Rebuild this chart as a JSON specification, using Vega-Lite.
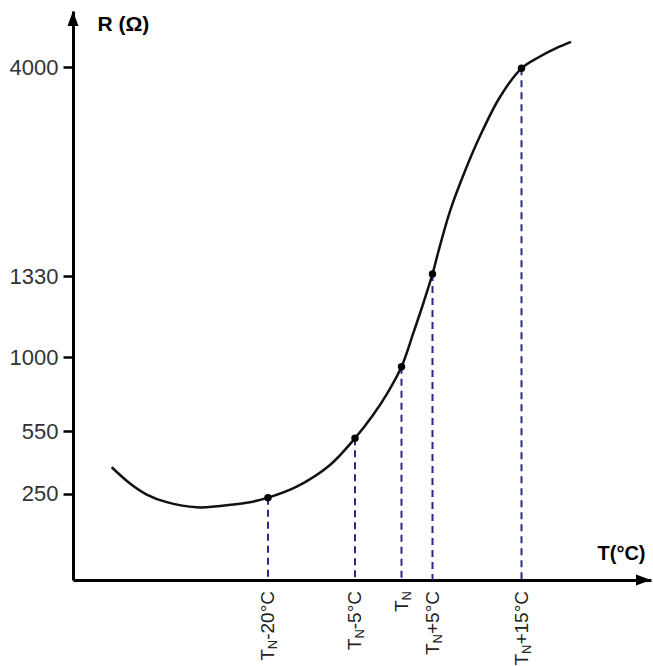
{
  "$schema": "https://vega.github.io/schema/vega-lite/v6.json",
  "width": 580,
  "height": 580,
  "autosize": "none",
  "padding": {"left": 73, "top": 0, "right": 0, "bottom": 86},
  "background": "white",
  "config": {"view": {"stroke": null}, "font": "Liberation Sans"},
  "datasets": {
    "curve": [
      {"t": -47.25, "r": 376}, {"t": -44.06, "r": 298}, {"t": -41.15, "r": 247},
      {"t": -37.66, "r": 225}, {"t": -32.43, "r": 210}, {"t": -28.37, "r": 214},
      {"t": -23.71, "r": 223}, {"t": -20, "r": 238}, {"t": -15.05, "r": 283},
      {"t": -9.31, "r": 387}, {"t": -5, "r": 515}, {"t": -3.06, "r": 647},
      {"t": -1.45, "r": 787}, {"t": 0, "r": 941}, {"t": 1.9, "r": 1097},
      {"t": 3.52, "r": 1219}, {"t": 5, "r": 1356}, {"t": 5.65, "r": 1637},
      {"t": 6.97, "r": 2160}, {"t": 8.65, "r": 2671}, {"t": 10.34, "r": 3118},
      {"t": 12.58, "r": 3617}, {"t": 15, "r": 3983}, {"t": 17.14, "r": 4131},
      {"t": 19.08, "r": 4238}, {"t": 20.73, "r": 4314}
    ],
    "pts": [
      {"t": -20, "r": 238, "label": "-20°C"},
      {"t": -5, "r": 515, "label": "-5°C"},
      {"t": 0, "r": 941, "label": ""},
      {"t": 5, "r": 1356, "label": "+5°C"},
      {"t": 15, "r": 3983, "label": "+15°C"}
    ]
  },
  "layer": [
    {
      "data": {"name": "pts"},
      "mark": {"type": "rule", "strokeDash": [7, 5], "strokeWidth": 2, "color": "#2a2a8c"},
      "encoding": {
        "x": {
          "field": "t", "type": "quantitative",
          "scale": {"domain": [-54, -20, -5, 0, 5, 15, 30], "range": [0, 195, 282, 328.5, 359.5, 448.5, 578], "zero": false, "nice": false},
          "axis": {
            "title": "T(°C)", "titleX": 524, "titleY": -27, "titleAlign": "left", "titleBaseline": "middle",
            "titleFontSize": 20, "titleFontWeight": "bold", "titleColor": "black", "titleFont": "Liberation Sans",
            "labels": false, "ticks": false, "grid": false, "domainWidth": 3, "domainColor": "black"
          }
        },
        "y": {
          "field": "r", "type": "quantitative",
          "scale": {"domain": [0, 250, 550, 1000, 1330, 4000, 4700], "range": [580, 493.5, 431, 357, 276, 67, 11], "zero": false, "nice": false},
          "axis": {
            "title": "R (Ω)", "titleAngle": 0, "titleX": 24, "titleY": 24, "titleAlign": "left", "titleBaseline": "middle",
            "titleFontSize": 21, "titleFontWeight": "bold", "titleColor": "black", "titleFont": "Liberation Sans",
            "values": [250, 550, 1000, 1330, 4000], "format": "d", "grid": false,
            "tickSize": 10, "tickWidth": 2.5, "tickColor": "black",
            "labelFontSize": 22, "labelColor": "#333", "labelPadding": 5, "labelFont": "Liberation Sans", "labelOverlap": false,
            "domainWidth": 3, "domainColor": "black"
          }
        },
        "y2": {"datum": 0}
      }
    },
    {
      "data": {"name": "curve"},
      "mark": {"type": "line", "interpolate": "catmull-rom", "color": "#111", "strokeWidth": 2.5},
      "encoding": {
        "x": {"field": "t", "type": "quantitative"},
        "y": {"field": "r", "type": "quantitative"}
      }
    },
    {
      "data": {"name": "pts"},
      "mark": {"type": "point", "filled": true, "shape": "circle", "size": 55, "color": "#000", "opacity": 1},
      "encoding": {
        "x": {"field": "t", "type": "quantitative"},
        "y": {"field": "r", "type": "quantitative"}
      }
    },
    {
      "data": {"values": [{}]},
      "mark": {"type": "point", "filled": true, "shape": "M0,0L0.73,2L-0.73,2Z", "size": 225, "color": "#000", "opacity": 1, "strokeWidth": 0},
      "encoding": {"x": {"datum": -54}, "y": {"datum": 4700}}
    },
    {
      "data": {"values": [{}]},
      "mark": {"type": "point", "filled": true, "shape": "M0,0L-2,-0.73L-2,0.73Z", "size": 225, "color": "#000", "opacity": 1, "strokeWidth": 0},
      "encoding": {"x": {"datum": 30}, "y": {"datum": 0}}
    },
    {
      "data": {"name": "pts"},
      "mark": {"type": "text", "angle": 270, "align": "right", "baseline": "middle", "dx": -11, "fontSize": 19, "font": "Liberation Sans", "color": "#222"},
      "encoding": {"x": {"field": "t", "type": "quantitative"}, "y": {"datum": 0}, "text": {"field": "label"}}
    },
    {
      "data": {"name": "pts"}, "transform": [{"filter": "datum.t == -20"}],
      "mark": {"type": "text", "text": "T", "angle": 270, "align": "right", "baseline": "middle", "dx": -69.2, "fontSize": 19, "font": "Liberation Sans", "color": "#222"},
      "encoding": {"x": {"field": "t", "type": "quantitative"}, "y": {"datum": 0}}
    },
    {
      "data": {"name": "pts"}, "transform": [{"filter": "datum.t == -20"}],
      "mark": {"type": "text", "text": "N", "angle": 270, "align": "right", "baseline": "middle", "dx": -59.8, "dy": 5, "fontSize": 13, "font": "Liberation Sans", "color": "#222"},
      "encoding": {"x": {"field": "t", "type": "quantitative"}, "y": {"datum": 0}}
    },
    {
      "data": {"name": "pts"}, "transform": [{"filter": "datum.t == -5"}],
      "mark": {"type": "text", "text": "T", "angle": 270, "align": "right", "baseline": "middle", "dx": -58.6, "fontSize": 19, "font": "Liberation Sans", "color": "#222"},
      "encoding": {"x": {"field": "t", "type": "quantitative"}, "y": {"datum": 0}}
    },
    {
      "data": {"name": "pts"}, "transform": [{"filter": "datum.t == -5"}],
      "mark": {"type": "text", "text": "N", "angle": 270, "align": "right", "baseline": "middle", "dx": -49.2, "dy": 5, "fontSize": 13, "font": "Liberation Sans", "color": "#222"},
      "encoding": {"x": {"field": "t", "type": "quantitative"}, "y": {"datum": 0}}
    },
    {
      "data": {"name": "pts"}, "transform": [{"filter": "datum.t == 0"}],
      "mark": {"type": "text", "text": "T", "angle": 270, "align": "right", "baseline": "middle", "dx": -20.4, "fontSize": 19, "font": "Liberation Sans", "color": "#222"},
      "encoding": {"x": {"field": "t", "type": "quantitative"}, "y": {"datum": 0}}
    },
    {
      "data": {"name": "pts"}, "transform": [{"filter": "datum.t == 0"}],
      "mark": {"type": "text", "text": "N", "angle": 270, "align": "right", "baseline": "middle", "dx": -11, "dy": 5, "fontSize": 13, "font": "Liberation Sans", "color": "#222"},
      "encoding": {"x": {"field": "t", "type": "quantitative"}, "y": {"datum": 0}}
    },
    {
      "data": {"name": "pts"}, "transform": [{"filter": "datum.t == 5"}],
      "mark": {"type": "text", "text": "T", "angle": 270, "align": "right", "baseline": "middle", "dx": -63.4, "fontSize": 19, "font": "Liberation Sans", "color": "#222"},
      "encoding": {"x": {"field": "t", "type": "quantitative"}, "y": {"datum": 0}}
    },
    {
      "data": {"name": "pts"}, "transform": [{"filter": "datum.t == 5"}],
      "mark": {"type": "text", "text": "N", "angle": 270, "align": "right", "baseline": "middle", "dx": -54, "dy": 5, "fontSize": 13, "font": "Liberation Sans", "color": "#222"},
      "encoding": {"x": {"field": "t", "type": "quantitative"}, "y": {"datum": 0}}
    },
    {
      "data": {"name": "pts"}, "transform": [{"filter": "datum.t == 15"}],
      "mark": {"type": "text", "text": "T", "angle": 270, "align": "right", "baseline": "middle", "dx": -73.9, "fontSize": 19, "font": "Liberation Sans", "color": "#222"},
      "encoding": {"x": {"field": "t", "type": "quantitative"}, "y": {"datum": 0}}
    },
    {
      "data": {"name": "pts"}, "transform": [{"filter": "datum.t == 15"}],
      "mark": {"type": "text", "text": "N", "angle": 270, "align": "right", "baseline": "middle", "dx": -64.5, "dy": 5, "fontSize": 13, "font": "Liberation Sans", "color": "#222"},
      "encoding": {"x": {"field": "t", "type": "quantitative"}, "y": {"datum": 0}}
    }
  ]
}
